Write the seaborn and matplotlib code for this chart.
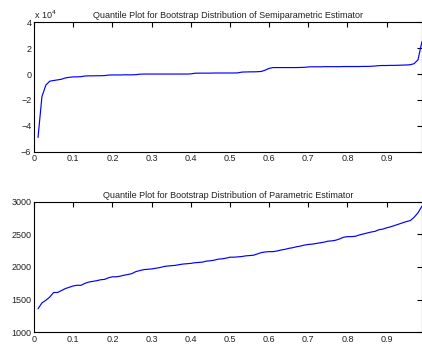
import numpy as np
import pandas as pd
import matplotlib
matplotlib.use("Agg")
import matplotlib.pyplot as plt
import seaborn as sns
from matplotlib.ticker import FuncFormatter, MultipleLocator

# Quantile levels 0.01 .. 0.99
quantiles = [round(0.01 * i, 2) for i in range(1, 100)]

# Semiparametric estimator quantiles (units of 1e4)
semi_e4 = [
    -4.9, -1.75, -0.85, -0.55, -0.5, -0.45, -0.4, -0.3, -0.25, -0.22,
    -0.22, -0.2, -0.15, -0.14, -0.14, -0.13, -0.13, -0.12, -0.08, -0.07,
    -0.07, -0.07, -0.06, -0.06, -0.06, -0.05, -0.01, 0.0, 0.0, 0.0,
    0.0, 0.0, 0.0, 0.0, 0.0, 0.0, 0.0, 0.0, 0.0, 0.01,
    0.06, 0.07, 0.07, 0.07, 0.07, 0.08, 0.08, 0.08, 0.08, 0.08,
    0.08, 0.09, 0.15, 0.16, 0.17, 0.17, 0.18, 0.2, 0.3, 0.44,
    0.5, 0.5, 0.5, 0.5, 0.5, 0.5, 0.5, 0.51, 0.52, 0.55,
    0.56, 0.56, 0.56, 0.57, 0.57, 0.57, 0.57, 0.57, 0.58, 0.58,
    0.58, 0.58, 0.58, 0.59, 0.59, 0.6, 0.62, 0.65, 0.66, 0.66,
    0.67, 0.67, 0.68, 0.69, 0.7, 0.72, 0.8, 1.1, 2.5,
]

# Parametric estimator quantiles
param = [
    1360, 1450, 1490, 1540, 1610, 1610, 1640, 1670, 1690, 1710,
    1720, 1720, 1750, 1770, 1780, 1790, 1805, 1810, 1835, 1850,
    1850, 1860, 1875, 1885, 1900, 1930, 1945, 1960, 1965, 1970,
    1980, 1990, 2005, 2015, 2020, 2025, 2035, 2045, 2050, 2055,
    2065, 2070, 2075, 2090, 2095, 2105, 2120, 2125, 2135, 2150,
    2150, 2155, 2160, 2170, 2175, 2180, 2200, 2220, 2230, 2235,
    2235, 2245, 2260, 2270, 2285, 2295, 2310, 2320, 2335, 2345,
    2350, 2360, 2370, 2380, 2395, 2400, 2410, 2430, 2455, 2465,
    2465, 2470, 2490, 2505, 2520, 2535, 2545, 2570, 2580, 2600,
    2615, 2635, 2655, 2675, 2695, 2710, 2760, 2830, 2930,
]

titles = [
    "Quantile Plot for Bootstrap Distribution of Semiparametric Estimator",
    "Quantile Plot for Bootstrap Distribution of Parametric Estimator",
]

df_semi = pd.DataFrame({"q": quantiles, "value": np.array(semi_e4) * 1e4})
df_param = pd.DataFrame({"q": quantiles, "value": param})

sns.set_style("white")
plt.rcParams["font.family"] = ["Liberation Sans", "DejaVu Sans"]
plt.rcParams["font.size"] = 6.5

fig = plt.figure(figsize=(4.22, 3.46), dpi=100)
ax1 = fig.add_axes([0.0808, 0.5616, 0.919, 0.374])
ax2 = fig.add_axes([0.0808, 0.0396, 0.919, 0.3775])

sns.lineplot(data=df_semi, x="q", y="value", ax=ax1, color="#0000ff", linewidth=0.85)
sns.lineplot(data=df_param, x="q", y="value", ax=ax2, color="#0000ff", linewidth=0.85)

fmt_x = FuncFormatter(lambda v, p: f"{v:g}")
for ax, title in zip([ax1, ax2], titles):
    ax.set_xlim(0, 0.99)
    ax.xaxis.set_major_locator(MultipleLocator(0.1))
    ax.xaxis.set_major_formatter(fmt_x)
    ax.set_xlabel("")
    ax.set_ylabel("")
    ax.set_title(title, fontsize=6.5, pad=3, color="#222222")
    ax.tick_params(direction="in", length=3.5, width=0.8, top=True, right=True,
                   labelsize=6.5, pad=2, colors="black", labelcolor="#222222")
    for s in ax.spines.values():
        s.set_color("black")
        s.set_linewidth(0.8)

ax1.set_ylim(-6e4, 4e4)
ax1.yaxis.set_major_locator(MultipleLocator(2e4))
ax1.yaxis.set_major_formatter(FuncFormatter(lambda v, p: f"{v / 1e4:g}".replace("-", "\u2212")))
ax1.text(0.0, 1.01, r"x 10$^4$", transform=ax1.transAxes, fontsize=6.5,
         ha="left", va="bottom", color="#222222")

ax2.set_ylim(1000, 3000)
ax2.yaxis.set_major_locator(MultipleLocator(500))

fig.savefig("out.png", dpi=100)
